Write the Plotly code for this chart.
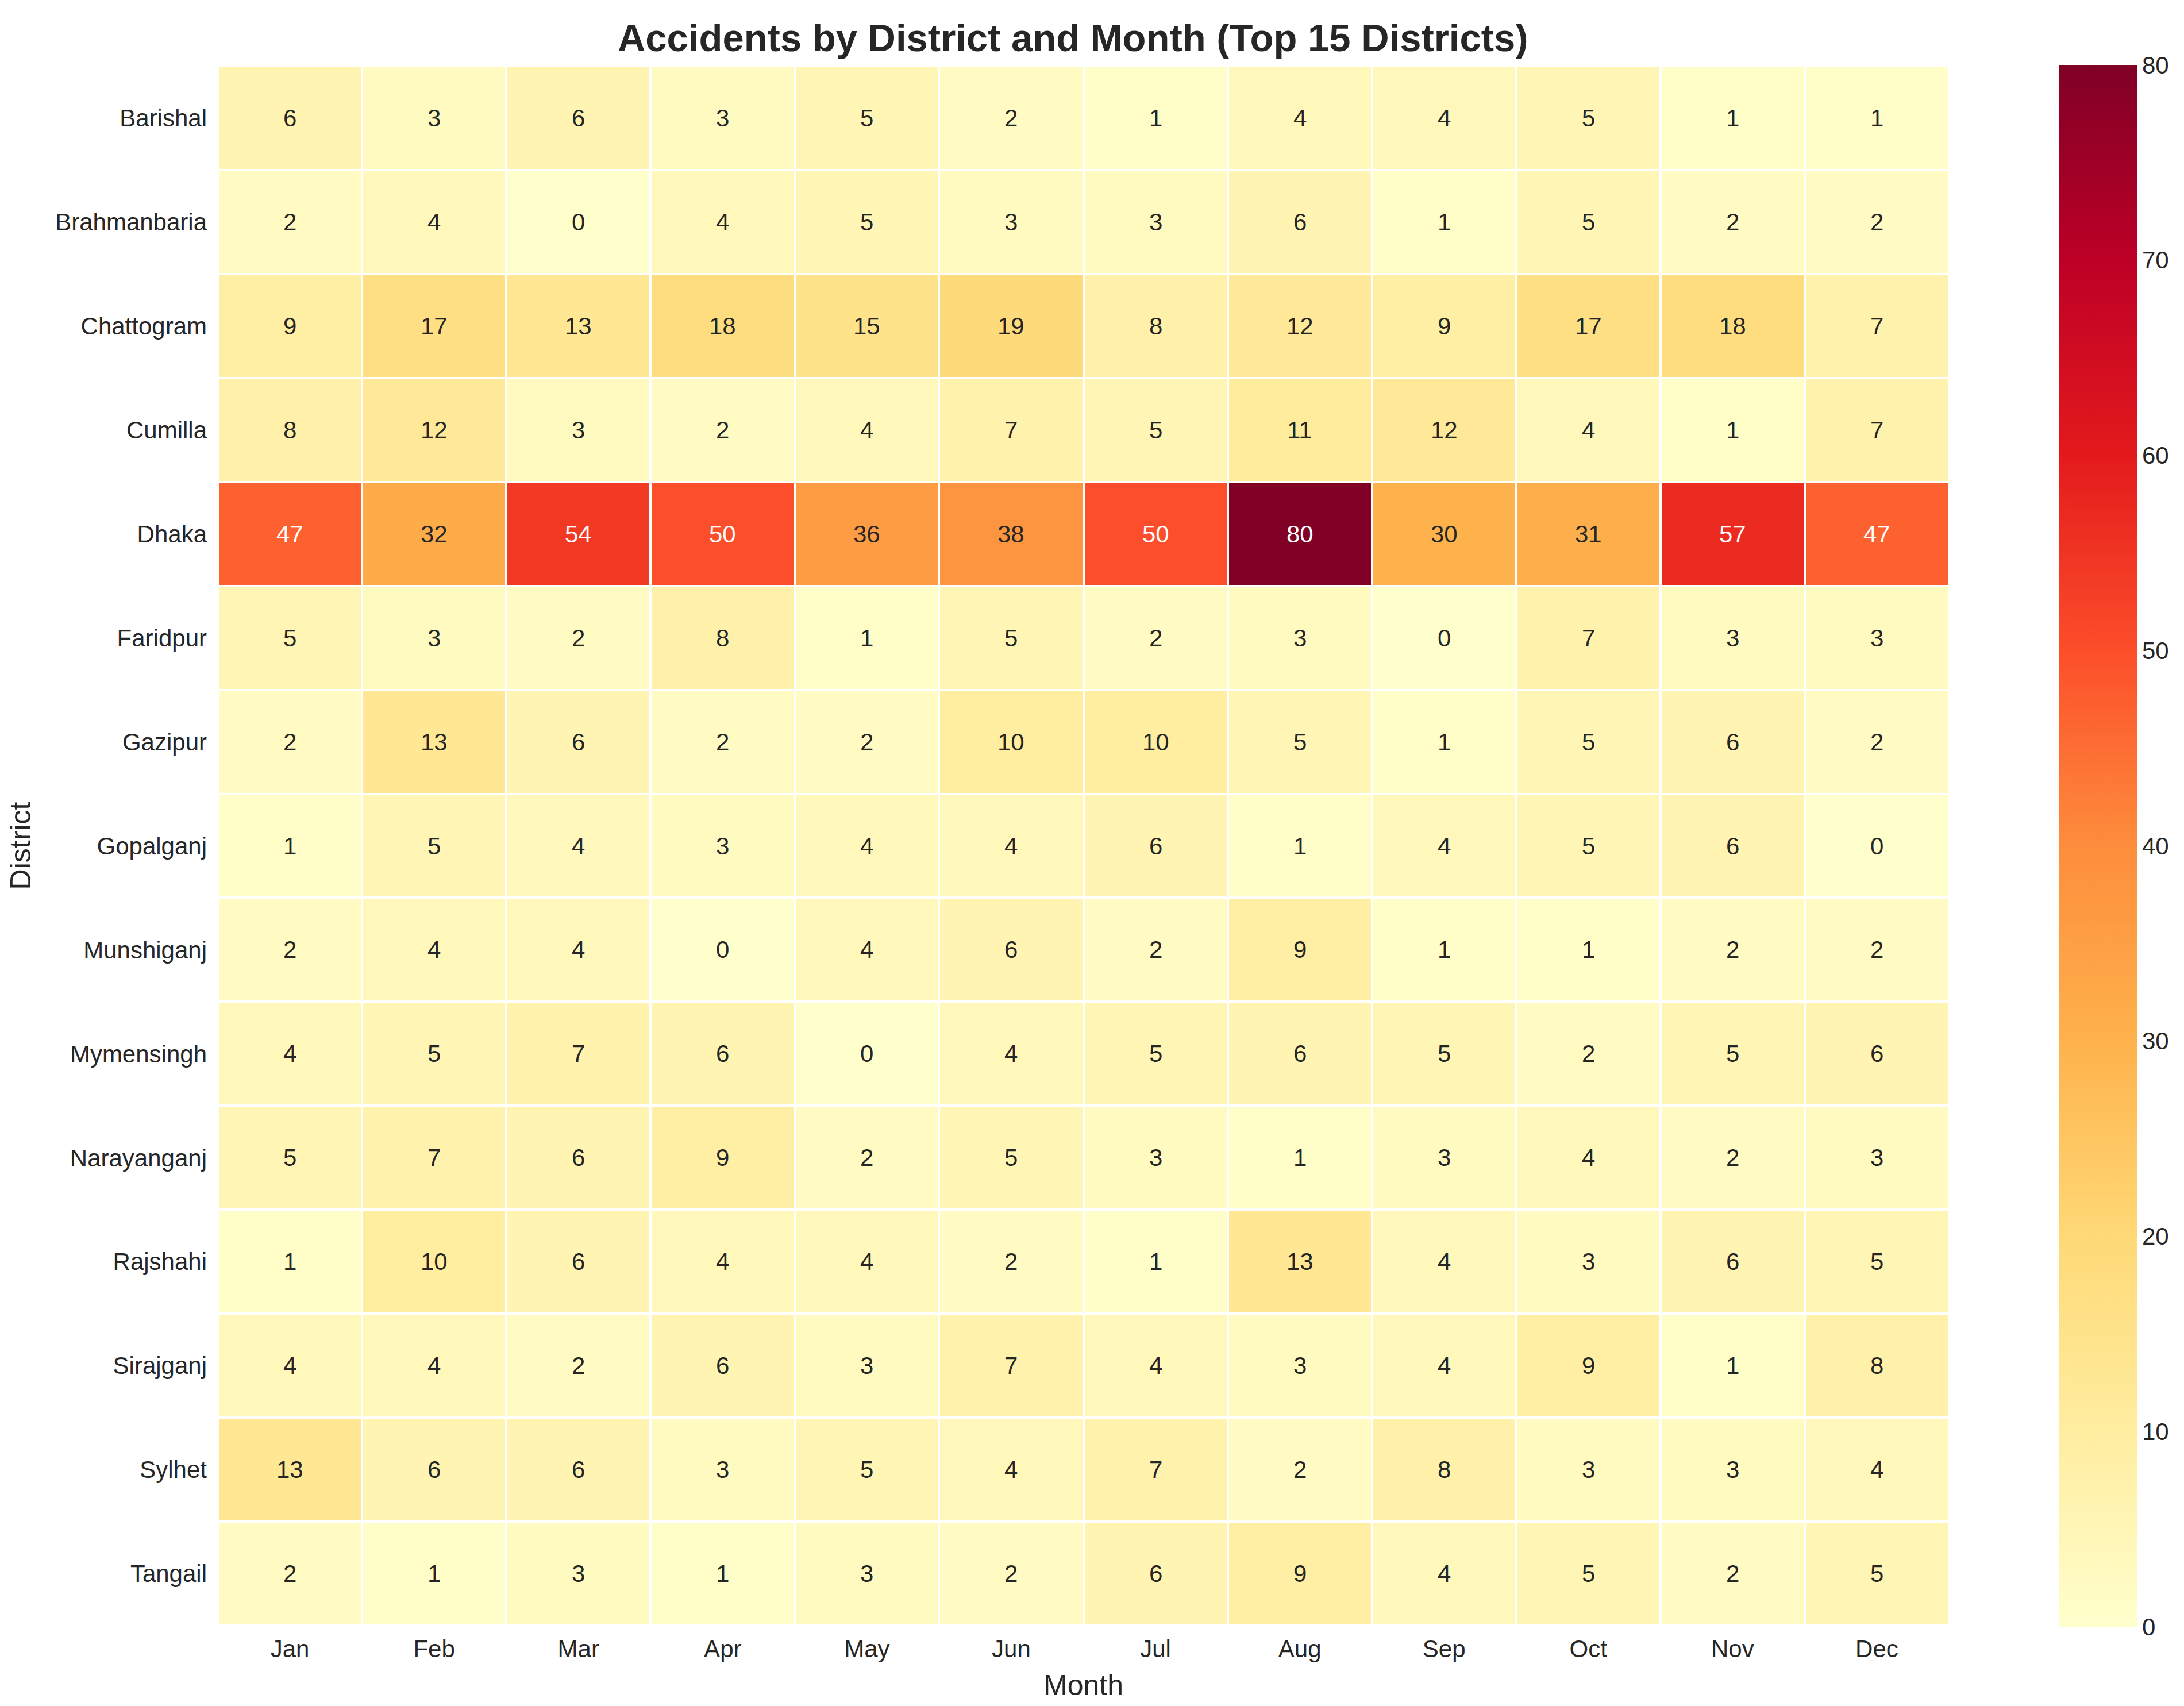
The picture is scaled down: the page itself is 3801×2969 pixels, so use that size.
import plotly.graph_objects as go

months = ["Jan", "Feb", "Mar", "Apr", "May", "Jun", "Jul", "Aug", "Sep", "Oct", "Nov", "Dec"]
districts = ["Barishal", "Brahmanbaria", "Chattogram", "Cumilla", "Dhaka", "Faridpur",
             "Gazipur", "Gopalganj", "Munshiganj", "Mymensingh", "Narayanganj",
             "Rajshahi", "Sirajganj", "Sylhet", "Tangail"]

barishal = [6, 3, 6, 3, 5, 2, 1, 4, 4, 5, 1, 1]
brahmanbaria = [2, 4, 0, 4, 5, 3, 3, 6, 1, 5, 2, 2]
chattogram = [9, 17, 13, 18, 15, 19, 8, 12, 9, 17, 18, 7]
cumilla = [8, 12, 3, 2, 4, 7, 5, 11, 12, 4, 1, 7]
dhaka = [47, 32, 54, 50, 36, 38, 50, 80, 30, 31, 57, 47]
faridpur = [5, 3, 2, 8, 1, 5, 2, 3, 0, 7, 3, 3]
gazipur = [2, 13, 6, 2, 2, 10, 10, 5, 1, 5, 6, 2]
gopalganj = [1, 5, 4, 3, 4, 4, 6, 1, 4, 5, 6, 0]
munshiganj = [2, 4, 4, 0, 4, 6, 2, 9, 1, 1, 2, 2]
mymensingh = [4, 5, 7, 6, 0, 4, 5, 6, 5, 2, 5, 6]
narayanganj = [5, 7, 6, 9, 2, 5, 3, 1, 3, 4, 2, 3]
rajshahi = [1, 10, 6, 4, 4, 2, 1, 13, 4, 3, 6, 5]
sirajganj = [4, 4, 2, 6, 3, 7, 4, 3, 4, 9, 1, 8]
sylhet = [13, 6, 6, 3, 5, 4, 7, 2, 8, 3, 3, 4]
tangail = [2, 1, 3, 1, 3, 2, 6, 9, 4, 5, 2, 5]

z = [barishal, brahmanbaria, chattogram, cumilla, dhaka, faridpur, gazipur, gopalganj,
     munshiganj, mymensingh, narayanganj, rajshahi, sirajganj, sylhet, tangail]

zmin, zmax = 0, 80
cb_ticks = [0, 10, 20, 30, 40, 50, 60, 70, 80]

ylorrd = ["#ffffcc", "#ffeda0", "#fed976", "#feb24c", "#fd8d3c",
          "#fc4e2a", "#e31a1c", "#bd0026", "#800026"]
n = len(ylorrd)
colorscale = [[i / (n - 1), c] for i, c in enumerate(ylorrd)]


def hex2rgb(h):
    h = h.lstrip("#")
    return [int(h[i:i + 2], 16) / 255 for i in (0, 2, 4)]


def cmap(v):
    t = (v - zmin) / (zmax - zmin)
    t = min(max(t, 0), 1)
    pos = t * (n - 1)
    i = min(int(pos), n - 2)
    f = pos - i
    a, b = hex2rgb(ylorrd[i]), hex2rgb(ylorrd[i + 1])
    return [a[k] + (b[k] - a[k]) * f for k in range(3)]


def lum(rgb):
    out = []
    for c in rgb:
        out.append(c / 12.92 if c <= 0.03928 else ((c + 0.055) / 1.055) ** 2.4)
    return 0.2126 * out[0] + 0.7152 * out[1] + 0.0722 * out[2]


FONT = "Liberation Sans, Arial, sans-serif"
TXT = "#262626"

fig = go.Figure()
fig.add_trace(go.Heatmap(
    z=z, x=months, y=districts, zmin=zmin, zmax=zmax,
    colorscale=colorscale, xgap=4, ygap=4, hoverinfo="skip",
    colorbar=dict(
        x=1.0634, xanchor="left", xref="paper", xpad=0, ypad=0,
        y=0.5, yanchor="middle", len=2718, lenmode="pixels",
        thickness=136, thicknessmode="pixels",
        outlinewidth=0, tickvals=cb_ticks, ticks="",
        tickfont=dict(family=FONT, size=42, color=TXT),
    ),
))

annotations = []
for r, d in enumerate(districts):
    for c, m in enumerate(months):
        v = z[r][c]
        col = "#262626" if lum(cmap(v)) > 0.408 else "#ffffff"
        annotations.append(dict(x=m, y=d, xref="x", yref="y", text=str(v),
                                showarrow=False,
                                font=dict(family=FONT, size=42, color=col)))

fig.update_layout(
    width=3801, height=2969,
    margin=dict(l=371, r=417, t=107, b=148),
    paper_bgcolor="white", plot_bgcolor="white",
    annotations=annotations,
    title=dict(text="<b>Accidents by District and Month (Top 15 Districts)</b>",
               x=(371 + 3384) / 2 / 3801, xanchor="center", xref="paper",
               y=1 - 58 / 2969, yanchor="middle", yref="container",
               font=dict(family=FONT, size=67, color=TXT)),
    xaxis=dict(title=dict(text="Month", standoff=22,
                          font=dict(family=FONT, size=50, color=TXT)),
               tickfont=dict(family=FONT, size=42, color=TXT),
               showgrid=False, zeroline=False, ticks="", ticklabelstandoff=12),
    yaxis=dict(title=dict(text="District", standoff=26,
                          font=dict(family=FONT, size=50, color=TXT)),
               tickfont=dict(family=FONT, size=42, color=TXT),
               autorange="reversed",
               showgrid=False, zeroline=False, ticks="", ticklabelstandoff=18),
)

fig.write_html("out.html")
